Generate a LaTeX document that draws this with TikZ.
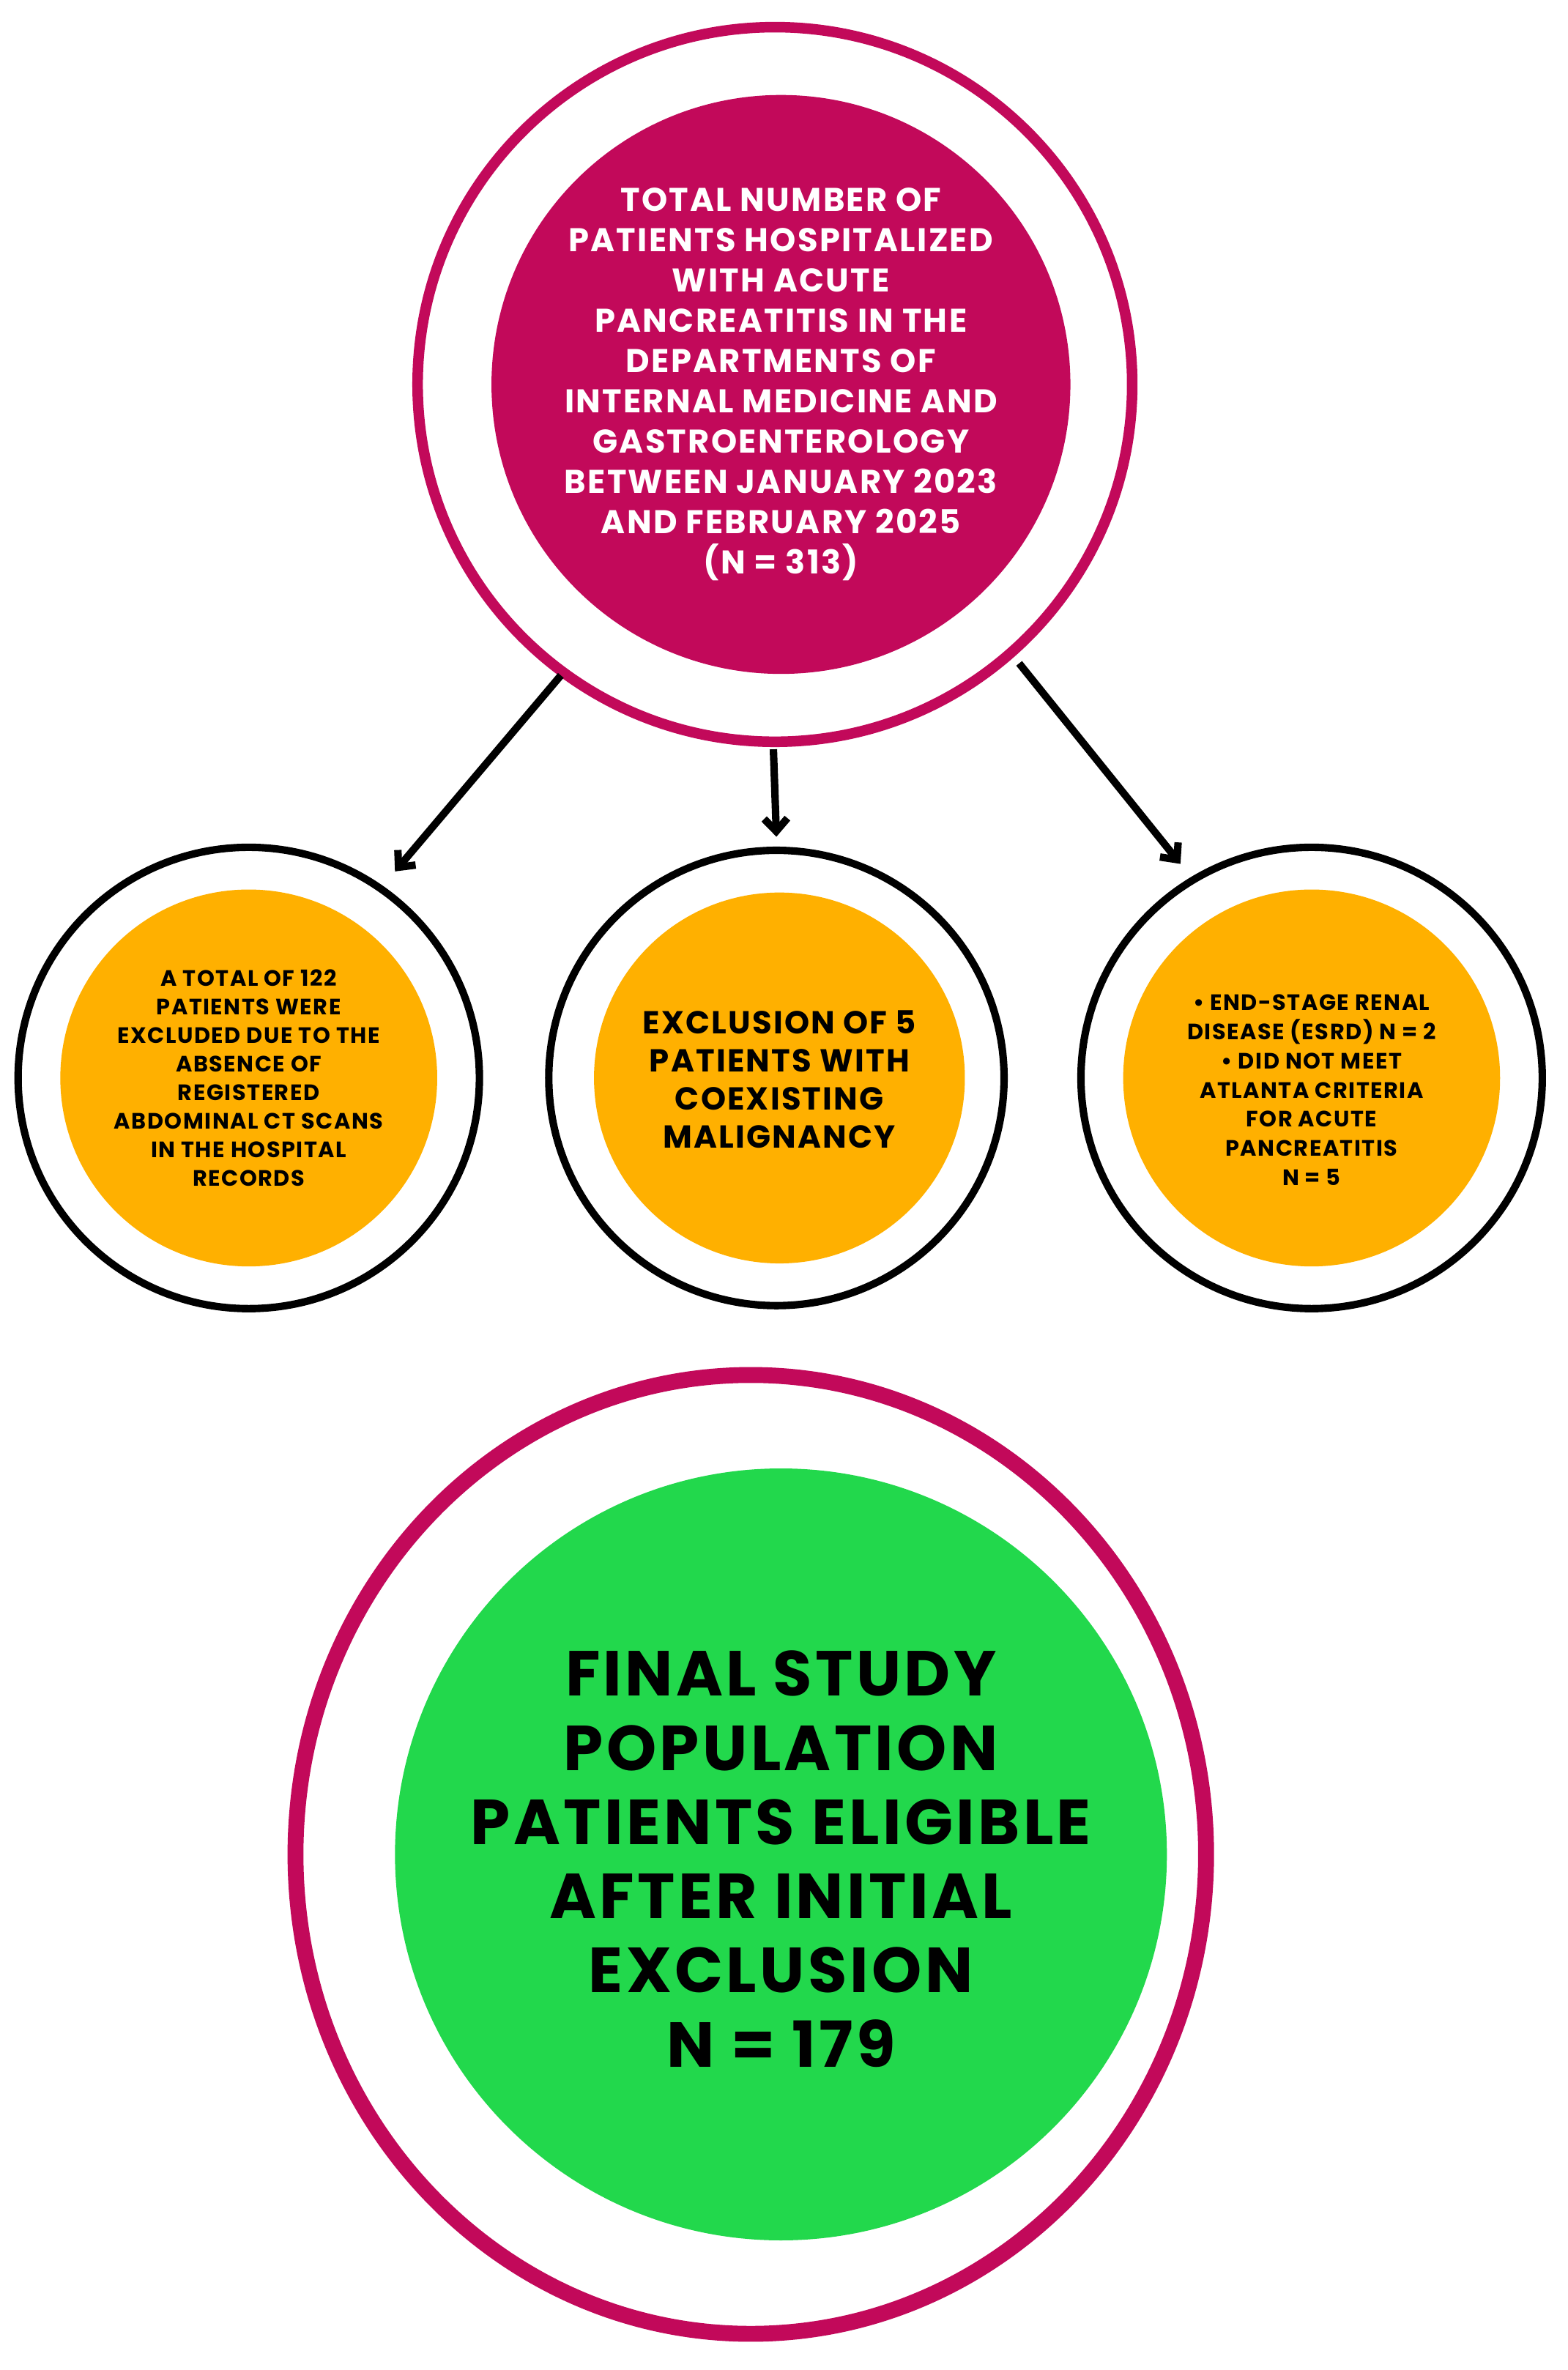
\documentclass[tikz,border=0pt]{standalone}
\usepackage{fontspec}
\setmainfont{Poppins}[BoldFont={* Bold},LetterSpace=5]
\usetikzlibrary{arrows.meta}
\definecolor{pinkc}{HTML}{C2095A}
\definecolor{orangec}{HTML}{FFB000}
\definecolor{greenc}{HTML}{22D84C}
\begin{document}
\begin{tikzpicture}[x=0.05cm,y=-0.05cm,
  ring/.style={circle,draw,fill=white,inner sep=0pt},
  txt/.style={align=center,font=\bfseries},
  arr/.style={-{Straight Barb[length=12pt,width=22pt]},line width=7pt,black}]
\useasboundingbox (0,0) rectangle (1040,1572);
\fill[white] (0,0) rectangle (1040,1572);
% top
\node[ring,draw=pinkc,line width=10pt,minimum size=474*0.05cm] (topring) at (514,255) {};
\node[circle,fill=pinkc,minimum size=384*0.05cm,inner sep=0pt] (top) at (518,255) {};
\node[txt,text=white,font=\bfseries\fontsize{31}{38}\selectfont] at (518,255) {TOTAL NUMBER OF\\PATIENTS HOSPITALIZED\\WITH ACUTE\\PANCREATITIS IN THE\\DEPARTMENTS OF\\INTERNAL MEDICINE AND\\GASTROENTEROLOGY\\BETWEEN JANUARY 2023\\AND FEBRUARY 2025\\(N = 313)};
% small circles
\node[ring,line width=7pt,minimum size=306*0.05cm] (lring) at (165,715) {};
\node[circle,fill=orangec,minimum size=250*0.05cm,inner sep=0pt] (l) at (165,715) {};
\node[txt,font=\bfseries\fontsize{21}{27}\selectfont] at (165,715) {A TOTAL OF 122\\PATIENTS WERE\\EXCLUDED DUE TO THE\\ABSENCE OF\\REGISTERED\\ABDOMINAL CT SCANS\\IN THE HOSPITAL\\RECORDS};
\node[ring,line width=7pt,minimum size=302*0.05cm] (mring) at (515,715) {};
\node[circle,fill=orangec,minimum size=246*0.05cm,inner sep=0pt] (m) at (517,715) {};
\node[txt,font=\bfseries\fontsize{30}{36}\selectfont] at (517,716) {EXCLUSION OF 5\\PATIENTS WITH\\COEXISTING\\MALIGNANCY};
\node[ring,line width=7pt,minimum size=306*0.05cm] (rring) at (870,715) {};
\node[circle,fill=orangec,minimum size=250*0.05cm,inner sep=0pt] (r) at (870,715) {};
\node[txt,font=\bfseries\fontsize{21}{27.5}\selectfont] at (870,723) {• END-STAGE RENAL\\DISEASE (ESRD) N = 2\\• DID NOT MEET\\ATLANTA CRITERIA\\FOR ACUTE\\PANCREATITIS\\N = 5};
% bottom
\draw[pinkc,line width=15pt,fill=white] (498,1230) ellipse (302 and 318);
\node[circle,fill=greenc,minimum size=512*0.05cm,inner sep=0pt] (bot) at (518,1230) {};
\node[txt,font=\bfseries\fontsize{60}{70}\selectfont] at (518,1233) {FINAL STUDY\\POPULATION\\PATIENTS ELIGIBLE\\AFTER INITIAL\\EXCLUSION\\N = 179};
% arrows
\coordinate (a1) at (372,448); \coordinate (b1) at (262,578);
\coordinate (a2) at (513,497); \coordinate (b2) at (515,555);
\coordinate (a3) at (676,440); \coordinate (b3) at (783,573);
\draw[arr] (a1) -- (b1);
\draw[arr] (a2) -- (b2);
\draw[arr] (a3) -- (b3);
\end{tikzpicture}
\end{document}
